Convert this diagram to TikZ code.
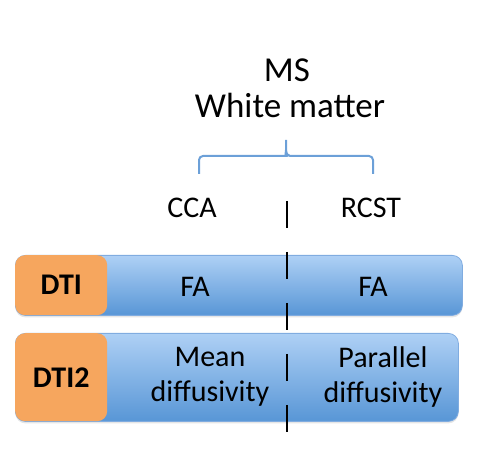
\documentclass[tikz,border=0pt]{standalone}
\usepackage{fontspec}
\setmainfont{Carlito}
\usetikzlibrary{positioning,calc,shadows}
\definecolor{BarTop}{RGB}{174,208,245}
\definecolor{BarBot}{RGB}{88,150,214}
\definecolor{BarEdge}{RGB}{128,172,224}
\definecolor{TagOrange}{RGB}{246,166,94}
\definecolor{BraceBlue}{RGB}{108,160,216}

\tikzset{
  bar/.style={draw=BarEdge,line width=0.8pt,rounded corners=10pt,top color=BarTop,bottom color=BarBot,
    anchor=north west,inner sep=0pt,drop shadow={shadow xshift=0pt,shadow yshift=-2pt,opacity=0.2}},
  tag/.style={fill=TagOrange,rounded corners=10pt,minimum width=92pt,anchor=north west,inner sep=0pt,
    font=\fontsize{30}{35}\selectfont\bfseries},
  cell/.style={font=\fontsize{30}{35}\selectfont,align=center,inner sep=0pt},
  heading/.style={font=\fontsize{35}{40}\selectfont,inner sep=0pt,anchor=base},
  brace/.style={BraceBlue,line width=2pt},
  cut/.style={black,line width=2pt,dash pattern=on 27pt off 24pt}
}

\begin{document}
\begin{tikzpicture}[x=1pt,y=-1pt]
  \useasboundingbox (0,0) rectangle (496,462);
  % titre
  \node[heading] (ms) at (287,82) {MS};
  \node[heading] (wm) at (290,118) {White matter};
  % accolade
  \coordinate (bl) at (199,174);
  \coordinate (br) at (373,174);
  \coordinate (peak) at (286,140);
  \draw[brace] (bl) [rounded corners=4pt] |- (282,156) [sharp corners]
    to[out=0,in=-90] (286,150) -- (peak) -- (286,150) to[out=-90,in=180] (290,156)
    [rounded corners=4pt] -| (br);
  \node[cell,anchor=base] (cca) at (192,218) {CCA};
  \node[cell,anchor=base] (rcst) at (371,218) {RCST};
  % barres
  \node[bar,minimum width=447pt,minimum height=60pt] (bar1) at (15,255) {};
  \node[bar,minimum width=443pt,minimum height=88pt] (bar2) at (15,333) {};
  \node[tag,minimum height=60pt] (dti) at (15,255) {DTI};
  \node[tag,minimum height=88pt] (dti2) at (15,333) {DTI2};
  \node[cell,anchor=base] (fa1) at (195,297) {FA};
  \node[cell,anchor=base] (fa2) at (373,297) {FA};
  \node[cell] (md) at (210,377) {Mean\\diffusivity};
  \node[cell] (pd) at (383,377) {Parallel\\diffusivity};
  % separation
  \coordinate (cuttop) at (287,201);
  \coordinate (cutbot) at (287,435);
  \draw[cut] (cuttop) -- (cutbot);
\end{tikzpicture}
\end{document}
